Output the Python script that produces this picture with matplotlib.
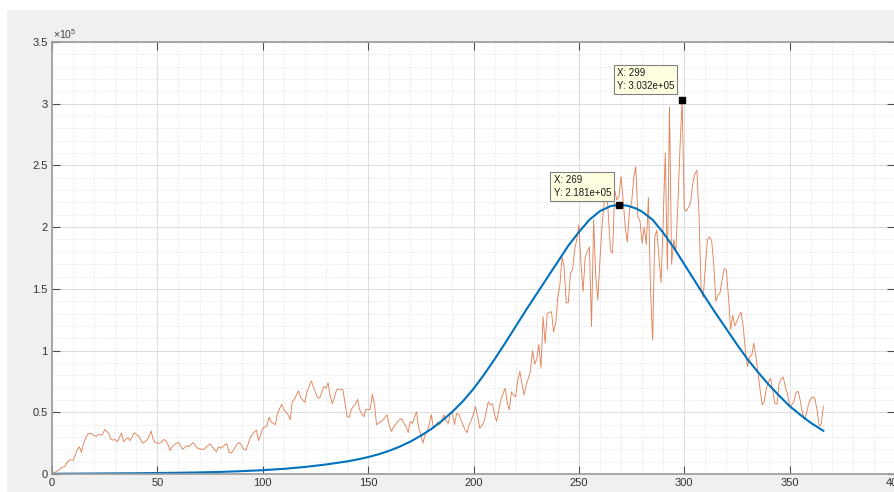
import numpy as np
import matplotlib
matplotlib.use('Agg')
import matplotlib.pyplot as plt
from matplotlib.ticker import MultipleLocator, FuncFormatter
from matplotlib.patches import Rectangle

# daily counts, in units of 1e4 (day 1 .. 366)
daily = [
    0.1, 0.2, 0.3, 0.45, 0.55, 0.6, 0.9, 1.1, 1.15, 1.1,
    1.5, 2.0, 2.2, 1.75, 2.5, 2.9, 3.25, 3.3, 3.25, 3.1,
    3.05, 3.2, 3.15, 3.2, 3.6, 3.45, 3.25, 2.8, 2.75, 2.8,
    2.6, 2.95, 3.3, 2.6, 2.8, 2.95, 2.7, 3.0, 3.35, 3.2,
    3.1, 2.8, 2.5, 2.6, 2.75, 3.0, 3.5, 2.8, 2.55, 2.5,
    2.5, 2.6, 2.8, 2.7, 2.4, 1.9, 2.2, 2.35, 2.5, 2.55,
    2.3, 2.0, 2.15, 2.3, 2.2, 2.4, 2.55, 2.3, 2.1, 2.05,
    2.0, 2.0, 2.15, 2.3, 2.45, 2.2, 2.0, 1.8, 2.2, 2.1,
    2.2, 2.35, 2.45, 1.75, 1.7, 1.9, 2.2, 2.45, 2.55, 2.3,
    2.0, 1.95, 2.4, 2.9, 3.2, 3.4, 3.55, 2.7, 3.2, 3.7,
    3.8, 3.9, 4.6, 4.2, 4.1, 4.0, 4.9, 5.3, 5.65, 5.2,
    5.05, 4.8, 4.4, 5.85, 6.05, 6.4, 6.75, 6.2, 6.0, 5.8,
    6.65, 7.1, 7.55, 7.1, 6.6, 6.2, 6.15, 6.6, 7.1, 6.95,
    7.4, 6.3, 5.7, 6.2, 6.8, 6.9, 6.85, 6.85, 5.8, 4.65,
    4.6, 5.2, 5.5, 5.65, 6.05, 5.2, 4.9, 4.65, 5.25, 5.2,
    5.25, 6.5, 5.6, 4.0, 4.1, 4.25, 4.35, 4.6, 4.8, 3.95,
    3.45, 3.8, 4.0, 4.25, 4.4, 4.5, 4.1, 3.85, 3.35, 4.25,
    4.1, 4.6, 5.05, 3.7, 3.2, 2.5, 3.15, 3.45, 4.0, 4.8,
    3.7, 3.9, 4.2, 4.0, 4.4, 4.8, 4.3, 4.1, 4.9, 4.95,
    4.0, 4.9, 4.85, 4.4, 4.0, 3.6, 3.35, 4.0, 4.4, 4.9,
    5.45, 4.6, 3.7, 3.9, 4.25, 5.0, 5.85, 5.6, 5.7, 4.8,
    4.25, 5.2, 6.0, 6.5, 6.95, 5.8, 5.2, 6.65, 6.4, 6.25,
    7.6, 8.3, 7.3, 6.4, 7.2, 7.75, 8.3, 10.0, 8.9, 9.3,
    10.5, 8.55, 12.75, 10.6, 13.0, 13.1, 13.15, 11.5, 12.2, 14.3,
    15.3, 17.6, 16.8, 13.85, 13.9, 16.25, 16.55, 18.15, 19.0, 20.2,
    17.0, 14.8, 17.6, 18.0, 18.4, 11.95, 20.6, 16.0, 14.1, 17.35,
    20.2, 22.0, 23.3, 21.0, 18.1, 17.9, 23.0, 22.2, 22.45, 24.1,
    22.2, 20.0, 18.8, 21.4, 21.95, 23.95, 24.9, 20.85, 20.5, 18.7,
    20.0, 18.6, 22.4, 15.0, 10.85, 19.2, 19.75, 17.5, 15.5, 20.5,
    26.0, 16.55, 29.75, 17.0, 19.0, 18.0, 22.0, 26.5, 30.32, 21.5,
    21.3, 21.6, 22.0, 23.5, 24.3, 24.6, 21.0, 15.0, 14.3, 16.8,
    19.0, 19.2, 18.9, 17.0, 14.0, 14.5, 14.7, 15.8, 16.65, 16.5,
    14.3, 11.7, 12.85, 12.0, 12.4, 12.8, 13.1, 11.9, 10.0, 8.7,
    9.5, 9.6, 10.6, 9.5, 8.2, 6.8, 5.6, 5.9, 7.0, 7.5,
    7.75, 6.8, 5.7, 5.65, 7.3, 7.7, 7.85, 7.0, 6.5, 5.45,
    5.6, 5.85, 6.6, 6.7, 6.0, 5.0, 4.4, 4.9, 5.7, 6.1,
    6.25, 6.1, 5.2, 3.9, 4.0, 5.5,
]
days = np.arange(1, len(daily) + 1)

# fitted curve (units of 1e4)
fit_day = [1, 10, 20, 30, 40, 50, 60, 70, 80, 90, 100, 110, 120, 130, 140,
           145, 150, 155, 160, 165, 170, 175, 180, 185, 190, 195, 200, 205,
           210, 215, 220, 225, 230, 235, 240, 245, 250, 255, 260, 265, 269,
           273, 277, 280, 285, 290, 295, 300, 305, 310, 315, 320, 325, 330,
           335, 340, 345, 350, 355, 360, 366]
fit_val = [0.02, 0.03, 0.04, 0.05, 0.06, 0.08, 0.1, 0.13, 0.17, 0.23, 0.31,
           0.42, 0.57, 0.77, 1.02, 1.18, 1.37, 1.6, 1.88, 2.22, 2.62, 3.1,
           3.65, 4.3, 5.05, 5.9, 6.9, 8.05, 9.3, 10.6, 11.95, 13.3, 14.6,
           15.9, 17.2, 18.5, 19.6, 20.6, 21.3, 21.7, 21.81, 21.74, 21.52,
           21.25, 20.6, 19.55, 18.35, 17.0, 15.65, 14.3, 13.0, 11.75, 10.5,
           9.3, 8.25, 7.25, 6.35, 5.5, 4.8, 4.15, 3.5]

# data tips
tip_x = [269, 299]
tip_y = [2.181e5, 3.032e5]

plt.rcParams['font.family'] = ['Liberation Sans', 'DejaVu Sans']
plt.rcParams['mathtext.fontset'] = 'custom'
plt.rcParams['mathtext.rm'] = 'Liberation Sans'

fig = plt.figure(figsize=(8.94, 4.92), dpi=100, facecolor='#f0f0f0')
# white screenshot border on top and left
fig.patches.append(Rectangle((0, 1 - 10 / 492), 1, 10 / 492, transform=fig.transFigure,
                             facecolor='white', edgecolor='none', zorder=-1))
fig.patches.append(Rectangle((0, 0), 7 / 894, 1, transform=fig.transFigure,
                             facecolor='white', edgecolor='none', zorder=-1))

ax = fig.add_axes([52 / 894, 18 / 492, 843 / 894, 432 / 492])
ax.set_facecolor('white')

ax.plot(days, np.array(daily) * 1e4, color='#D95319', lw=0.65, alpha=0.72)
ax.plot(fit_day, np.array(fit_val) * 1e4, color='#0072BD', lw=1.5,
        solid_joinstyle='round')

for i, (x, y) in enumerate(zip(tip_x, tip_y)):
    ax.plot(x, y, 's', color='black', ms=4.2, zorder=5)
    ax.annotate(f'X: {x}\nY: {y:.3e}', xy=(x, y), xytext=(-8, 7 + 2 * i),
                textcoords='offset pixels', ha='right', va='bottom',
                multialignment='left', fontsize=7, linespacing=1.35,
                color='#1a1a1a',
                bbox=dict(boxstyle='square,pad=0.33', fc='#ffffe1', ec='#808080', lw=0.8),
                zorder=6)

ax.set_xlim(0, 400)
ax.set_ylim(0, 3.5e5)
ax.xaxis.set_major_locator(MultipleLocator(50))
ax.xaxis.set_minor_locator(MultipleLocator(10))
ax.yaxis.set_major_locator(MultipleLocator(0.5e5))
ax.yaxis.set_minor_locator(MultipleLocator(0.1e5))
ax.yaxis.set_major_formatter(FuncFormatter(lambda v, p: f'{v / 1e5:g}'))

ax.tick_params(which='major', direction='in', top=True, right=True, length=6,
               width=0.8, color='#4d4d4d', labelsize=8, labelcolor='#333333', pad=3)
ax.tick_params(which='minor', length=0, top=True, right=True)

ax.grid(which='major', color='#dcdcdc', lw=0.7)
ax.grid(which='minor', color='#e0e0e0', ls=':', lw=0.7)
ax.set_axisbelow(True)

for s in ax.spines.values():
    s.set_color('#9a9a9a')
    s.set_linewidth(1.2)

ax.annotate(r'$\times10^{5}$', xy=(0, 1), xycoords='axes fraction', xytext=(1, 1),
            textcoords='offset pixels', ha='left', va='bottom',
            fontsize=7.5, color='#404040')

fig.savefig('out.png', dpi=100, facecolor=fig.get_facecolor())
